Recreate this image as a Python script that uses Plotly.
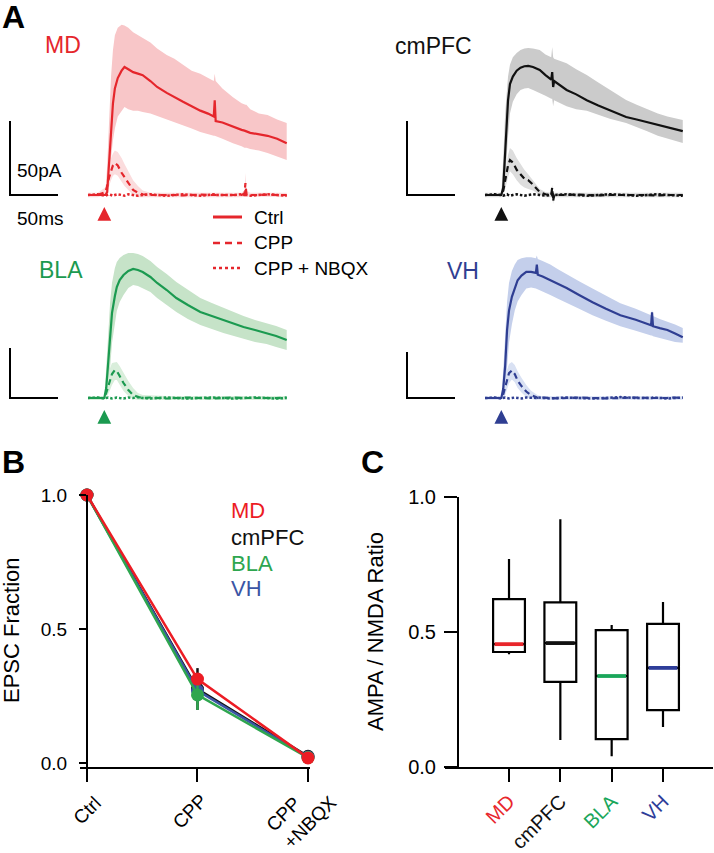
import plotly.graph_objects as go

# ---------------- DATA ----------------
# Panel A: mean EPSC traces (time in ms from trace start, amplitude in pA), band = mean +/- SEM
MD_T = [0, 10, 18, 20, 22, 24, 26, 28, 31, 35, 38, 42, 47, 52, 57, 65, 72, 82, 90, 99, 108, 117, 125, 131, 132, 133, 140, 151, 160, 163, 164, 165, 169, 178, 187, 197, 207]
MD_CTRL = [0, 0, 0, 2, 22, 45, 62, 72, 79, 84, 86.5, 85, 83, 82, 81, 77, 73, 69, 66, 63, 60, 57, 55, 53, 64, 50, 49, 46, 44, 43.5, 43, 43, 42, 41, 40, 38, 35]
MD_CTRL_HI = [0, 0, 0, 20, 50, 80, 98, 108, 113, 115, 114.5, 113, 110, 108, 106, 103, 99, 94.6, 92, 88, 84, 82, 79, 77, 82, 77, 72, 66, 62, 61, 61, 61, 58, 55, 54, 51, 48.6]
MD_CTRL_LO = [0, 0, 0, 0, 10, 25, 37, 45, 53, 57, 59.5, 58, 57, 57, 56, 55, 53, 50.7, 49, 47, 45, 42.6, 41, 40, 40, 40, 38, 35, 33, 32, 32, 32, 31, 30, 28.4, 26, 23.6]
MD_CPP = [0, 0, 2, 6, 12, 17, 20, 21.6, 20, 15, 12, 8, 3.4, 1.5, 0.5, 0, 0, 0.3, 0, -0.3, 0, 0.3, 0, 0, 0, 0, 0.3, 0, 0, 1, 8, 1, 0, 0, 0.3, 0, 0]
MD_CPP_HI = [1.5, 1.5, 5, 12, 19, 25, 28, 30, 29, 25, 21, 16, 10, 6, 3, 1.5, 1.5, 1.5, 1.5, 1.5, 1.5, 1.5, 1.5, 1.5, 1.5, 1.5, 1.5, 1.5, 1.5, 3, 15, 3, 1.5, 1.5, 1.5, 1.5, 1.5]
MD_CPP_LO = [-1.5, -1.5, 0, 2, 6, 10, 13, 14, 13, 9, 6, 3, 0, -1.5, -1.5, -1.5, -1.5, -1.5, -1.5, -1.5, -1.5, -1.5, -1.5, -1.5, -1.5, -1.5, -1.5, -1.5, -1.5, -1, 2, -1, -1.5, -1.5, -1.5, -1.5, -1.5]
MD_NBQX = [0, 0.5, -0.5, 0, 0.5, 0, -0.5, 0, 0.5, 0, -0.5, 0.5, 0, -0.5, 0, 0.5, 0, -0.5, 0, 0.5, 0, -0.5, 0, 0.5, 0, 0, -0.5, 0, 0.5, 0, 3, 0, -0.5, 0, 0.5, 0, -0.5]

CM_T = [0, 10, 17, 19, 21, 23, 24, 26, 29, 33, 37, 41, 45, 50, 57, 63, 69, 70, 71, 72, 85, 95, 106, 118, 130, 147, 158, 169, 180, 190, 206]
CM_CTRL = [0, 0, 0, 5, 30, 52, 64, 75, 80, 84, 86, 87, 87.2, 86.5, 84.5, 81, 78, 83, 73, 77, 71, 68, 64, 60.5, 57.4, 52.7, 51, 49.3, 47.5, 45.9, 43.2]
CM_CTRL_HI = [0, 0, 0, 25, 55, 72, 80, 88, 93, 96, 98, 99, 99.3, 99, 98, 95, 93, 100, 93, 92, 89, 85, 81, 76, 71, 64.2, 61, 58, 55, 53, 50.7]
CM_CTRL_LO = [0, 0, 0, 0, 10, 28, 40, 55, 63, 68, 71, 72, 72.3, 71, 69, 67, 65, 65, 60, 64, 60, 58, 57, 54, 51.5, 48.6, 46, 43, 40, 38, 35.1]
CM_CPP = [0, 0, 0, 3, 10, 17, 20, 23.6, 22, 17, 14, 11, 10, 7, 2, 0.5, 0, 5, -4, 0, 0, 0.3, 0, -0.3, 0, 0.3, 0, 0, -0.3, 0, 0]
CM_CPP_HI = [1.5, 1.5, 1.5, 6, 15, 24, 27, 31.7, 30, 25, 21, 17, 14, 10, 4, 2, 1.5, 7, 1.5, 1.5, 1.5, 1.5, 1.5, 1.5, 1.5, 1.5, 1.5, 1.5, 1.5, 1.5, 1.5]
CM_CPP_LO = [-1.5, -1.5, -1.5, 0, 4, 9, 12, 16, 14, 10, 7, 5, 4, 3, 0, -1.5, -1.5, -1.5, -6, -1.5, -1.5, -1.5, -1.5, -1.5, -1.5, -1.5, -1.5, -1.5, -1.5, -1.5, -1.5]
CM_NBQX = [0, 0.5, 0, -0.5, 0, 0.5, 0, -0.5, 0, 0.5, 0, -0.5, 0, 0.5, 0, -0.5, 0, 2, -2, 0, 0.5, 0, -0.5, 0, 0.5, 0, -0.5, 0, 0.5, 0, -0.5]

BLA_T = [0, 10, 17, 19, 21, 23, 25, 28, 30, 33, 37, 42, 47, 52, 57, 65, 72, 82, 92, 104, 117, 129, 141, 151, 162, 174, 186, 196, 207]
BLA_CTRL = [0, 0, 0, 10, 35, 62, 85, 102, 111, 118, 123, 127, 129, 128, 126, 121, 115, 108, 100, 93, 86, 82, 78, 74, 71, 68, 65, 62, 58]
BLA_CTRL_HI = [0, 0, 0, 30, 65, 95, 115, 130, 136, 140, 143, 145, 145, 144, 142, 137, 131, 124, 116, 108, 100, 95, 90, 86, 82, 78, 75, 72, 68]
BLA_CTRL_LO = [0, 0, 0, 0, 10, 30, 55, 75, 87, 96, 103, 110, 113, 112, 110, 106, 100, 93, 86, 79, 73, 69, 65, 62, 59, 56, 54, 51, 48]
BLA_CPP = [0, 0, 0, 5, 12, 19, 24, 28, 27, 22, 15, 8, 3, 1, 0, 0.5, 0, -0.5, 0, 0.5, 0, -0.5, 0, 0.5, 0, 0, -0.5, 0, 0.5]
BLA_CPP_HI = [2, 2, 2, 12, 22, 30, 35, 36, 36, 32, 25, 17, 10, 5, 3, 2.5, 2, 2, 2, 2, 2, 2, 2, 2, 2, 2, 2, 2, 2]
BLA_CPP_LO = [-2, -2, -2, 0, 3, 8, 13, 18, 18, 13, 7, 2, -1, -2, -2, -2, -2, -2, -2, -2, -2, -2, -2, -2, -2, -2, -2, -2, -2]
BLA_NBQX = [0, 0.5, -0.5, 0, 0.5, 0, -0.5, 0, 0.5, 0, -0.5, 0.5, 0, 1, 0, -0.5, 0, 0.5, 0, -0.5, 0, 0.5, 0, -0.5, 0, 0.5, 0, -0.5, 0]

VH_T = [0, 10, 17, 19, 21, 23, 25, 28, 31, 34, 38, 43, 48, 53, 54, 55, 60, 68, 76, 85, 98, 112, 126, 141, 157, 173, 174, 175, 182, 190, 198, 206]
VH_CTRL = [0, 0, 0, 10, 35, 74, 95, 110, 120, 128, 133, 137, 137, 136, 145, 134, 132, 128, 124, 119.6, 112, 104, 97, 90, 85, 79, 93, 78, 76, 74, 70, 66]
VH_CTRL_HI = [0, 0, 0, 30, 70, 105, 125, 138, 145, 150, 152, 153, 153, 152, 155, 151, 149, 145, 140, 135, 127, 119, 111, 103, 97, 90, 96, 89, 86, 83, 80, 76]
VH_CTRL_LO = [0, 0, 0, 0, 8, 35, 60, 80, 95, 105, 112, 119, 120, 119, 119, 118, 116, 112, 108, 104, 97, 90, 84, 78, 73, 68, 68, 67, 65, 63, 61, 60]
VH_CPP = [0, 0, 0, 4, 12, 20, 27, 30, 26, 19, 13, 7, 3, 1, 0, 0, 0.5, 0, -0.5, 0, 0.5, 0, -0.5, 0, 0.5, 0, 0, 0, -0.5, 0, 0.5, 0]
VH_CPP_HI = [2, 2, 2, 12, 22, 31, 37, 39, 36, 29, 22, 14, 8, 4, 3, 3, 2, 2, 2, 2, 2, 2, 2, 2, 2, 2, 2, 2, 2, 2, 2, 2]
VH_CPP_LO = [-2, -2, -2, 0, 3, 9, 16, 20, 17, 11, 6, 1, -1, -2, -2, -2, -2, -2, -2, -2, -2, -2, -2, -2, -2, -2, -2, -2, -2, -2, -2, -2]
VH_NBQX = [0, 0.5, -0.5, 0, 0.5, 0, -0.5, 0, 0.5, 0, -0.5, 0.5, 0, -0.5, 0, 0.5, 0, -0.5, 0, 0.5, 0, -0.5, 0, 1, 0, -0.5, 0, 0.5, 0, -0.5, 0, 0.5]

STIM_T = 17          # ms, stimulus arrow
SCALE_MS = 50
SCALE_PA = 50

# Panel B: EPSC fraction
CONDITIONS = ["Ctrl", "CPP", "CPP<br>+NBQX"]
B_MD = [1.0, 0.313, 0.019]
B_MD_ERR = [0, 0.015, 0.004]
B_CMPFC = [1.0, 0.276, 0.025]
B_CMPFC_ERR = [0, 0.078, 0.005]
B_BLA = [1.0, 0.254, 0.02]
B_BLA_ERR = [0, 0.056, 0.005]
B_VH = [1.0, 0.27, 0.022]
B_VH_ERR = [0, 0.03, 0.005]

# Panel C: AMPA/NMDA ratio box plots
REGIONS = ["MD", "cmPFC", "BLA", "VH"]
C_LOWER = [0.418, 0.10, 0.04, 0.148]
C_Q1 = [0.426, 0.315, 0.103, 0.211]
C_MED = [0.455, 0.459, 0.337, 0.367]
C_Q3 = [0.622, 0.61, 0.507, 0.53]
C_UPPER = [0.77, 0.918, 0.526, 0.611]

# ---------------- STYLE / LAYOUT ----------------
W, H = 714, 853
FONT = "Liberation Sans, Arial, Helvetica, sans-serif"


def px(x):
    return x / W


def py(y):
    return 1 - y / H


RED, BLACK, GREEN, BLUE = "#e5262c", "#111111", "#1b9a50", "#2f3e92"
SHADE = {"MD": "#f8c6c8", "cmPFC": "#cbcbcb", "BLA": "#c6e3c8", "VH": "#c4cfeb"}
CPP_SHADE = {"MD": "#fbdcdd", "cmPFC": "#dddddd", "BLA": "#d9eedb", "VH": "#d9e1f3"}
B_COL = {"MD": "#ec1c24", "cmPFC": "#111111", "BLA": "#2ea64f", "VH": "#3b55a5"}

fig = go.Figure()

# time axis mapping: trace starts 88 px into each 300 px panel, 0.96 px per ms
T_RANGE = [(0 - 88) / 0.96, (300 - 88) / 0.96]
SCALE_X0 = (10 - 88) / 0.96

panels = [
    # name, color, axis idx, x-domain px, base px, px per pA, top px, bottom px, data
    ("MD", RED, 1, (0, 300), 195, 1.48, 12, 232,
     (MD_T, MD_CTRL, MD_CTRL_HI, MD_CTRL_LO, MD_CPP, MD_CPP_HI, MD_CPP_LO, MD_NBQX)),
    ("cmPFC", BLACK, 2, (397, 697), 195, 1.48, 12, 232,
     (CM_T, CM_CTRL, CM_CTRL_HI, CM_CTRL_LO, CM_CPP, CM_CPP_HI, CM_CPP_LO, CM_NBQX)),
    ("BLA", GREEN, 3, (0, 300), 398, 1.0, 240, 440,
     (BLA_T, BLA_CTRL, BLA_CTRL_HI, BLA_CTRL_LO, BLA_CPP, BLA_CPP_HI, BLA_CPP_LO, BLA_NBQX)),
    ("VH", BLUE, 4, (397, 697), 398, 0.92, 240, 440,
     (VH_T, VH_CTRL, VH_CTRL_HI, VH_CTRL_LO, VH_CPP, VH_CPP_HI, VH_CPP_LO, VH_NBQX)),
]

layout_axes = {}
annotations = []
shapes = []

for name, col, i, xd, base, ppp, top, bot, data in panels:
    T, ctrl, chi, clo, cpp, phi, plo, nbqx = data
    xa = "x" if i == 1 else f"x{i}"
    ya = "y" if i == 1 else f"y{i}"
    kx = "xaxis" if i == 1 else f"xaxis{i}"
    ky = "yaxis" if i == 1 else f"yaxis{i}"
    layout_axes[kx] = dict(domain=[px(xd[0]), px(xd[1])], range=T_RANGE, visible=False, anchor=ya)
    layout_axes[ky] = dict(domain=[py(bot), py(top)],
                           range=[-(bot - base) / ppp, (base - top) / ppp], visible=False, anchor=xa)
    common = dict(xaxis=xa, yaxis=ya, showlegend=False, hoverinfo="skip")
    # bands
    fig.add_trace(go.Scatter(x=T + T[::-1], y=chi + clo[::-1], fill="toself", mode="lines",
                             fillcolor=SHADE[name], line=dict(width=0), **common))
    fig.add_trace(go.Scatter(x=T + T[::-1], y=phi + plo[::-1], fill="toself", mode="lines",
                             fillcolor=CPP_SHADE[name], line=dict(width=0), **common))
    # traces
    fig.add_trace(go.Scatter(x=T, y=nbqx, mode="lines",
                             line=dict(color=col, width=2.5, dash="2.5px,2px"), **common))
    fig.add_trace(go.Scatter(x=T, y=cpp, mode="lines",
                             line=dict(color=col, width=2.2, dash="6px,4px"), **common))
    fig.add_trace(go.Scatter(x=T, y=ctrl, mode="lines", line=dict(color=col, width=2.2), **common))
    # scale bar
    fig.add_trace(go.Scatter(x=[SCALE_X0, SCALE_X0, SCALE_X0 + SCALE_MS], y=[SCALE_PA, 0, 0],
                             mode="lines", line=dict(color="black", width=2), **common))
    # stimulus arrow
    annotations.append(dict(x=STIM_T, y=0, xref=xa, yref=ya, text="", showarrow=True,
                            ax=0, ay=14, yshift=-12, arrowhead=2, arrowsize=1.1,
                            arrowwidth=2.5, arrowcolor=col))

# panel A region labels
for txt, col, x, y in [("MD", RED, 43, 45), ("cmPFC", BLACK, 393, 46), ("BLA", GREEN, 37, 270), ("VH", BLUE, 445, 271)]:
    annotations.append(dict(text=txt, x=px(x), y=py(y), xref="paper", yref="paper", xanchor="left",
                            yanchor="middle", showarrow=False, font=dict(size=23, color=col, family=FONT)))

# scale labels
for txt, y in [("50pA", 170), ("50ms", 218)]:
    annotations.append(dict(text=txt, x=px(15), y=py(y), xref="paper", yref="paper", xanchor="left",
                            yanchor="middle", showarrow=False, font=dict(size=19, color="black", family=FONT)))

# legend in panel A
for txt, y, dash, w in [("Ctrl", 217, "solid", 3), ("CPP", 243, "7px,5px", 2.5), ("CPP + NBQX", 268, "3px,3px", 2.5)]:
    shapes.append(dict(type="line", xref="paper", yref="paper", x0=px(213), x1=px(242), y0=py(y), y1=py(y),
                       line=dict(color=RED, width=w, dash=dash)))
    annotations.append(dict(text=txt, x=px(252), y=py(y), xref="paper", yref="paper", xanchor="left",
                            yanchor="middle", showarrow=False, font=dict(size=19, color="black", family=FONT)))

# panel letters
for txt, x, y in [("A", 0, 17), ("B", 0, 462), ("C", 359, 462)]:
    annotations.append(dict(text="<b>%s</b>" % txt, x=px(x), y=py(y), xref="paper", yref="paper",
                            xanchor="left", yanchor="middle", showarrow=False,
                            font=dict(size=32, color="black", family=FONT)))

# ---------------- Panel B ----------------
xb = list(range(len(CONDITIONS)))
for name, vals, err in [("cmPFC", B_CMPFC, B_CMPFC_ERR), ("VH", B_VH, B_VH_ERR),
                        ("BLA", B_BLA, B_BLA_ERR), ("MD", B_MD, B_MD_ERR)]:
    fig.add_trace(go.Scatter(x=xb, y=vals, mode="lines+markers", xaxis="x5", yaxis="y5",
                             line=dict(color=B_COL[name], width=2.5),
                             marker=dict(color=B_COL[name], size=13),
                             error_y=dict(type="data", array=err, color=B_COL[name], thickness=2.5, width=0),
                             cliponaxis=False, showlegend=False))

layout_axes["xaxis5"] = dict(domain=[px(80), px(310)], range=[-0.063, 2.018], anchor="y5",
                             showline=True, linewidth=2, linecolor="black", ticks="outside", ticklen=13,
                             tickwidth=2, tickcolor="black", tickvals=xb, showticklabels=False,
                             showgrid=False, zeroline=False, automargin=False)
layout_axes["yaxis5"] = dict(domain=[py(767), py(495)], range=[-0.015, 1.0], anchor="free", position=px(87),
                             showline=True, linewidth=2, linecolor="black", ticks="outside", ticklen=7,
                             tickwidth=2, tickcolor="black", tickvals=[0, 0.5, 1.0],
                             ticktext=["0.0", "0.5", "1.0"], ticklabelstandoff=8,
                             tickfont=dict(size=19, color="black", family=FONT), showgrid=False, zeroline=False,
                             automargin=False)

# rotated condition labels (multi-line label left-aligned as in the original)
for i, (lab, xs, yc) in enumerate(zip(CONDITIONS, [0, -8, -7], [810, 811, 814])):
    annotations.append(dict(text=lab, x=xb[i], xref="x5", xshift=xs, y=py(yc), yref="paper",
                            textangle=-45, align="left", showarrow=False, xanchor="center", yanchor="middle",
                            font=dict(size=19, color="black", family=FONT)))

annotations.append(dict(text="EPSC Fraction", x=px(11), y=py(630), xref="paper", yref="paper",
                        textangle=-90, showarrow=False, xanchor="center", yanchor="middle",
                        font=dict(size=22, color="black", family=FONT)))
for txt, y in [("MD", 510), ("cmPFC", 537), ("BLA", 563), ("VH", 588)]:
    annotations.append(dict(text=txt, x=px(229), y=py(y), xref="paper", yref="paper", xanchor="left",
                            yanchor="middle", showarrow=False, font=dict(size=22, color=B_COL[txt], family=FONT)))

# ---------------- Panel C ----------------
BOX_W = 0.62
C_COL = {"MD": "#e8262b", "cmPFC": "#111111", "BLA": "#1aa65a", "VH": "#2e3d99"}
for i, reg in enumerate(REGIONS):
    fig.add_trace(go.Box(x=[i], q1=[C_Q1[i]], median=[C_MED[i]], q3=[C_Q3[i]],
                         lowerfence=[C_LOWER[i]], upperfence=[C_UPPER[i]], width=BOX_W, whiskerwidth=0,
                         line=dict(color="black", width=2.2), fillcolor="white", boxpoints=False,
                         xaxis="x6", yaxis="y6", showlegend=False, hoverinfo="skip"))
    fig.add_trace(go.Scatter(x=[i - BOX_W / 2 + 0.03, i + BOX_W / 2 - 0.03], y=[C_MED[i], C_MED[i]],
                             mode="lines", line=dict(color=C_COL[reg], width=3.8), xaxis="x6", yaxis="y6",
                             showlegend=False, hoverinfo="skip"))

layout_axes["xaxis6"] = dict(domain=[px(445), px(713)], range=[-1.247, 3.974], anchor="y6",
                             showline=True, linewidth=2, linecolor="black", ticks="outside", ticklen=13,
                             tickwidth=2, tickcolor="black", tickvals=list(range(len(REGIONS))),
                             ticktext=['<span style="color:%s">%s</span>' % (C_COL[r], r) for r in REGIONS],
                             tickangle=-45, tickfont=dict(size=20, color="black", family=FONT),
                             showgrid=False, zeroline=False, automargin=False)
layout_axes["yaxis6"] = dict(domain=[py(767), py(497)], range=[0, 1.0], anchor="free", position=px(458),
                             showline=True, linewidth=2, linecolor="black", ticks="outside", ticklen=13,
                             tickwidth=2, tickcolor="black", tickvals=[0, 0.5, 1.0],
                             ticktext=["0.0", "0.5", "1.0"], ticklabelstandoff=4,
                             tickfont=dict(size=20, color="black", family=FONT), showgrid=False, zeroline=False,
                             automargin=False)

annotations.append(dict(text="AMPA / NMDA Ratio", x=px(375), y=py(632), xref="paper", yref="paper",
                        textangle=-90, showarrow=False, xanchor="center", yanchor="middle",
                        font=dict(size=22, color="black", family=FONT)))

fig.update_layout(width=W, height=H, margin=dict(l=0, r=0, t=0, b=0, pad=0, autoexpand=False),
                  paper_bgcolor="white", plot_bgcolor="white", annotations=annotations, shapes=shapes,
                  font=dict(family=FONT, color="black"), hovermode=False, **layout_axes)

# the page body has a default 8px margin; remove it so the figure fills the window exactly
fig.write_html("out.html", config={"displayModeBar": False},
               post_script="document.body.style.margin='0';document.body.style.overflow='hidden';")
